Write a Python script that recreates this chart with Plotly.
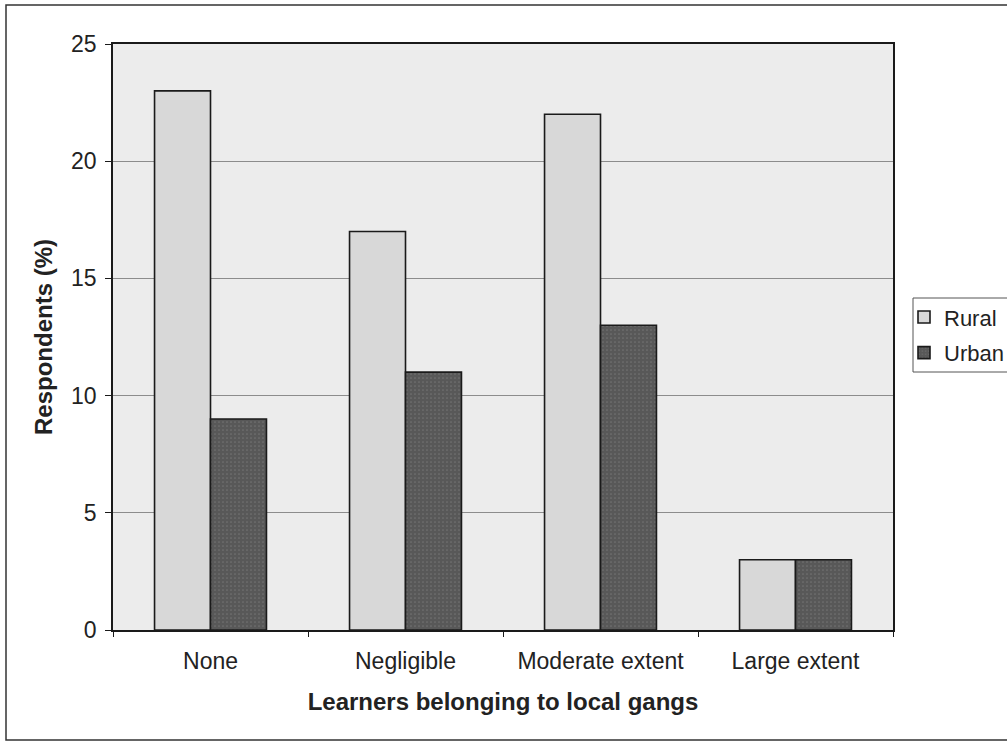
import plotly.graph_objects as go

# Survey results: learners belonging to local gangs, by school location
categories = ["None", "Negligible", "Moderate extent", "Large extent"]
rural = [23, 17, 22, 3]
urban = [9, 11, 13, 3]
y_ticks = [0, 5, 10, 15, 20, 25]

FONT = "Liberation Sans, Arial, sans-serif"
L, R, T, B = 113, 114, 44, 113
PW, PH = 1007 - L - R, 743 - T - B


def px_x(x):
    return (x - L) / PW


def px_y(y):
    return (743 - B - y) / PH


fig = go.Figure()
fig.add_trace(go.Bar(
    name="Rural", x=categories, y=rural,
    marker=dict(color="#d8d8d8", line=dict(color="#1a1a1a", width=1.6)),
    legendgroup="r",
))
fig.add_trace(go.Bar(
    name="Urban", x=categories, y=urban,
    marker=dict(color="#585858", line=dict(color="#1a1a1a", width=1.6),
                pattern=dict(shape=".", fgcolor="#8a8a8a", size=4, solidity=0.15)),
    legendgroup="u",
))

fig.update_layout(
    width=1007, height=743,
    margin=dict(l=L, r=R, t=T, b=B, autoexpand=False),
    paper_bgcolor="white",
    plot_bgcolor="#ececec",
    barmode="group",
    bargap=0.426,
    bargroupgap=0,
    font=dict(family=FONT, size=23, color="#222222"),
    showlegend=True,
    legend=dict(
        x=px_x(904), xanchor="left", y=0.503, yanchor="middle",
        bgcolor="rgba(0,0,0,0)", borderwidth=0,
        font=dict(size=22, color="#222222"),
        tracegroupgap=4, traceorder="grouped",
        itemwidth=30,
    ),
    xaxis=dict(
        title=dict(text="<b>Learners belonging to local gangs</b>",
                   font=dict(size=24), standoff=20),
        showline=True, linecolor="#1a1a1a", linewidth=1.5, mirror=True,
        ticks="outside", ticklen=5, tickcolor="#1a1a1a", tickson="boundaries",
        ticklabelstandoff=10,
        showgrid=False,
        tickfont=dict(size=23),
    ),
    yaxis=dict(
        title=dict(text="<b>Respondents (%)</b>", font=dict(size=24), standoff=12),
        range=[0, 25],
        tickvals=y_ticks,
        showline=True, linecolor="#1a1a1a", linewidth=1.5, mirror=True,
        ticks="outside", ticklen=6, tickcolor="#1a1a1a",
        ticklabelstandoff=4,
        showgrid=True, gridcolor="#8c8c8c", gridwidth=1,
        zeroline=False,
        tickfont=dict(size=23),
    ),
)

# Outer frame around the whole chart
fig.add_shape(type="rect", xref="paper", yref="paper",
              x0=px_x(6), x1=px_x(1012), y0=px_y(740), y1=px_y(5),
              line=dict(color="#333333", width=1.5), fillcolor="rgba(0,0,0,0)",
              layer="below")
# Legend frame, running off the right edge
fig.add_shape(type="rect", xref="paper", yref="paper",
              x0=px_x(913), x1=px_x(1012), y0=px_y(372), y1=px_y(298),
              line=dict(color="#555555", width=1), fillcolor="white",
              layer="below")

fig.write_html("out.html")
